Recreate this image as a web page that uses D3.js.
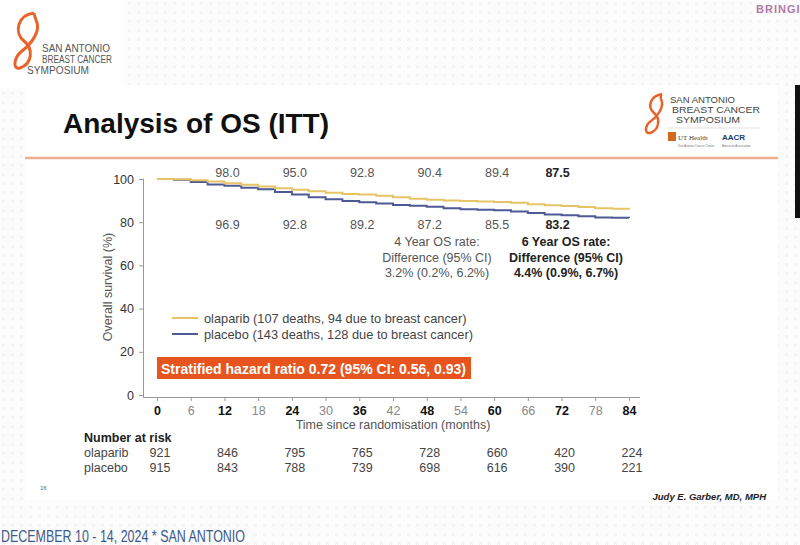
<!DOCTYPE html>
<html><head><meta charset="utf-8">
<script src="https://cdn.jsdelivr.net/npm/d3@7"></script>
<style>
body{margin:0;padding:0;background:#fff;}
svg{display:block;font-family:Arial,"Liberation Sans",sans-serif;}
</style></head>
<body>
<svg id="chart" width="800" height="545"></svg>
<script>
// ---- data ----
const months = [0,3,6,9,12,15,18,21,24,27,30,33,36,39,42,45,48,51,54,57,60,63,66,69,72,75,78,81,84];
const olaparibOS = [100,99.9,99.4,98.8,98.0,97.3,96.5,95.7,95.0,94.3,93.6,93.1,92.8,92.2,91.5,90.9,90.4,90.1,89.8,89.6,89.4,89.0,88.3,87.8,87.5,87.0,86.5,86.2,85.9];
const placeboOS  = [100,99.7,98.6,97.5,96.9,96.0,95.2,94.0,92.8,91.6,90.6,89.8,89.2,88.6,88.0,87.6,87.2,86.5,86.0,85.8,85.5,85.0,84.3,83.6,83.2,82.7,82.2,82.1,82.0];
const xTicks = [0,6,12,18,24,30,36,42,48,54,60,66,72,78,84];
const yTicks = [0,20,40,60,80,100];
const labelMonths = [12,24,36,48,60,72];
const olaparibLabels = ["98.0","95.0","92.8","90.4","89.4","87.5"];
const placeboLabels  = ["96.9","92.8","89.2","87.2","85.5","83.2"];
const riskMonths = [0,12,24,36,48,60,72,84];
const olaparibRisk = [921,846,795,765,728,660,420,224];
const placeboRisk  = [915,843,788,739,698,616,390,221];
const seriesNames = ["olaparib (107 deaths, 94 due to breast cancer)","placebo (143 deaths, 128 due to breast cancer)"];
const colors = {olaparib:"#e6c465", placebo:"#4d5a96", orange:"#e8541e"};

const svg = d3.select("#chart");

// ---- slide background ----
const defs = svg.append("defs");
const pat = defs.append("pattern").attr("id","dots").attr("width",9).attr("height",9).attr("patternUnits","userSpaceOnUse");
pat.append("rect").attr("width",9).attr("height",9).attr("fill","#fcfcfc");
pat.append("path").attr("d","M2,2 L5,5 M5,2 L2,5").attr("stroke","#ebebeb").attr("stroke-width",0.8);
svg.append("rect").attr("width",800).attr("height",545).attr("fill","url(#dots)");
svg.append("rect").attr("x",25).attr("y",85).attr("width",753).attr("height",415).attr("fill","#fff");
svg.append("rect").attr("x",0).attr("y",0).attr("width",122).attr("height",88).attr("fill","#fff");
svg.append("rect").attr("x",795).attr("y",85).attr("width",5).attr("height",133).attr("fill","#111");

function fitText(g, xx, yy, size, len, txt, fill){
  return g.append("text").attr("x",xx).attr("y",yy).attr("font-size",size).attr("fill",fill)
    .attr("textLength",len).attr("lengthAdjust","spacingAndGlyphs").text(txt);
}

// top-left logo
const lg = svg.append("g");
lg.append("path").attr("d","M34,13 C17,15 14,33 24,41 C34,49 32,64 20,68 C12,70 14,57 22,51 C30,45 42,31 36,20 C34,14 34,13 34,13")
  .attr("fill","none").attr("stroke","#e8622a").attr("stroke-width",3);
fitText(lg,42,52,10,68,"SAN ANTONIO","#555");
fitText(lg,42,63,10,70,"BREAST CANCER","#555");
fitText(lg,27,74,10,62,"SYMPOSIUM","#555");

// top-right "BRINGI"
svg.append("text").attr("x",756).attr("y",13).attr("font-size",11).attr("fill","#b07aa8").attr("font-weight","bold").attr("letter-spacing",1).text("BRINGI");

// right logo
const rg = svg.append("g");
rg.append("path").attr("d","M662,94 C650,96 647,107 654,113 C661,119 659,130 650,133 C644,134 645,125 651,121 C657,117 665,107 661,99 C660,95 662,94 662,94")
  .attr("fill","none").attr("stroke","#e8622a").attr("stroke-width",2.5);
fitText(rg,670,103,8.5,65,"SAN ANTONIO","#444");
fitText(rg,672,113,8.5,88,"BREAST CANCER","#444");
fitText(rg,676,123,8.5,64,"SYMPOSIUM","#444");
rg.append("line").attr("x1",668).attr("x2",760).attr("y1",128).attr("y2",128).attr("stroke","#ccc").attr("stroke-width",0.6);
rg.append("rect").attr("x",668).attr("y",132).attr("width",8).attr("height",9).attr("fill","#d2691e");
rg.append("text").attr("x",678).attr("y",140).attr("font-size",7).attr("fill","#444").attr("font-family","'Liberation Serif',serif").text("UT Health");
rg.append("text").attr("x",722).attr("y",140).attr("font-size",8).attr("fill","#1a3c6e").attr("font-weight","bold").text("AACR");
rg.append("text").attr("x",678).attr("y",147).attr("font-size",3).attr("fill","#777").text("San Antonio Cancer Center");
rg.append("text").attr("x",722).attr("y",147).attr("font-size",3).attr("fill","#777").text("American Association");

// title
svg.append("text").attr("x",63).attr("y",133).attr("font-size",28).attr("font-weight","bold").attr("fill","#111").text("Analysis of OS (ITT)");
svg.append("line").attr("x1",25).attr("x2",778).attr("y1",158).attr("y2",158).attr("stroke","#eeae92").attr("stroke-width",2.5);

// ---- chart ----
const x = d3.scaleLinear().domain([0,84]).range([157,629]);
const y = d3.scaleLinear().domain([0,100]).range([395,179]);
const gray = "#333";

const yAxis = svg.append("g").attr("transform","translate(143,0)")
  .call(d3.axisLeft(y).tickValues(yTicks).tickSize(4).tickPadding(5));
yAxis.select(".domain").attr("d",`M-0.5,${y(100)}H0.5V${y(0)+2}`).attr("stroke","#999");
yAxis.selectAll(".tick line").attr("stroke","#999");
yAxis.selectAll("text").attr("font-size",12.5).attr("fill",gray).attr("font-family","Arial,'Liberation Sans',sans-serif");

const xAxis = svg.append("g").attr("transform",`translate(0,${y(0)+2})`)
  .call(d3.axisBottom(x).tickValues(xTicks).tickSize(4).tickPadding(5));
xAxis.select(".domain").attr("d",`M143,0.5H640`).attr("stroke","#999");
xAxis.selectAll(".tick line").attr("stroke","#999");
xAxis.selectAll("text").attr("font-size",12.5).attr("font-family","Arial,'Liberation Sans',sans-serif")
  .attr("fill",d=>d%12===0?"#111":"#888").attr("font-weight",d=>d%12===0?"bold":"normal");

svg.append("text").attr("transform",`translate(112,${y(50)}) rotate(-90)`).attr("text-anchor","middle")
  .attr("font-size",12.5).attr("fill","#555").text("Overall survival (%)");
svg.append("text").attr("x",x(42)).attr("y",429).attr("text-anchor","middle").attr("font-size",12.5).attr("fill","#555")
  .text("Time since randomisation (months)");

const line = d3.line().x(d=>x(d[0])).y(d=>y(d[1])).curve(d3.curveStepAfter);
svg.append("path").datum(months.map((m,i)=>[m,placeboOS[i]])).attr("d",line)
  .attr("fill","none").attr("stroke",colors.placebo).attr("stroke-width",2);
svg.append("path").datum(months.map((m,i)=>[m,olaparibOS[i]])).attr("d",line)
  .attr("fill","none").attr("stroke",colors.olaparib).attr("stroke-width",2);

// value labels
labelMonths.forEach((m,i)=>{
  const bold = i===labelMonths.length-1;
  const dx = bold ? -4 : 3;
  svg.append("text").attr("x",x(m)+dx).attr("y",177).attr("text-anchor","middle").attr("font-size",12.5)
    .attr("fill",bold?"#222":"#555").attr("font-weight",bold?"bold":"normal").text(olaparibLabels[i]);
  svg.append("text").attr("x",x(m)+dx).attr("y",229).attr("text-anchor","middle").attr("font-size",12.5)
    .attr("fill",bold?"#222":"#555").attr("font-weight",bold?"bold":"normal").text(placeboLabels[i]);
});

// OS rate boxes
const four = ["4 Year OS rate:","Difference (95% CI)","3.2% (0.2%, 6.2%)"];
const six = ["6 Year OS rate:","Difference (95% CI)","4.4% (0.9%, 6.7%)"];
four.forEach((t,i)=>svg.append("text").attr("x",437).attr("y",246+i*15.5).attr("text-anchor","middle")
  .attr("font-size",12.5).attr("fill","#555").text(t));
six.forEach((t,i)=>svg.append("text").attr("x",566).attr("y",246+i*15.5).attr("text-anchor","middle")
  .attr("font-size",12.5).attr("font-weight","bold").attr("fill","#222").text(t));

// legend
[["olaparib",0],["placebo",1]].forEach(([k,i])=>{
  const ly = 318+i*16;
  svg.append("line").attr("x1",172).attr("x2",198).attr("y1",ly).attr("y2",ly).attr("stroke",colors[k]).attr("stroke-width",2);
  svg.append("text").attr("x",204).attr("y",ly+4.5).attr("font-size",12.8).attr("fill","#444").text(seriesNames[i]);
});

// hazard ratio box
svg.append("rect").attr("x",157).attr("y",357).attr("width",314).attr("height",22).attr("fill",colors.orange);
svg.append("text").attr("x",161).attr("y",373.5).attr("font-size",14).attr("font-weight","bold").attr("fill","#fff")
  .text("Stratified hazard ratio 0.72 (95% CI: 0.56, 0.93)");

// number at risk
svg.append("text").attr("x",84).attr("y",442).attr("font-size",12.5).attr("font-weight","bold").attr("fill","#222").text("Number at risk");
[["olaparib",olaparibRisk,457],["placebo",placeboRisk,472]].forEach(([n,vals,ry])=>{
  svg.append("text").attr("x",84).attr("y",ry).attr("font-size",12.5).attr("fill","#444").text(n);
  vals.forEach((v,i)=>svg.append("text").attr("x",x(riskMonths[i])+3).attr("y",ry).attr("text-anchor","middle")
    .attr("font-size",12.5).attr("fill","#444").text(v));
});

// footer
svg.append("text").attr("x",40).attr("y",490).attr("font-size",6).attr("fill","#666").text("16");
svg.append("text").attr("x",766).attr("y",500).attr("text-anchor","end").attr("font-size",9.5).attr("font-weight","bold")
  .attr("font-style","italic").attr("fill","#222").text("Judy E. Garber, MD, MPH");
fitText(svg,1,542,16,244,"DECEMBER 10 - 14, 2024 * SAN ANTONIO","#3b5a8c");
</script>
</body></html>
